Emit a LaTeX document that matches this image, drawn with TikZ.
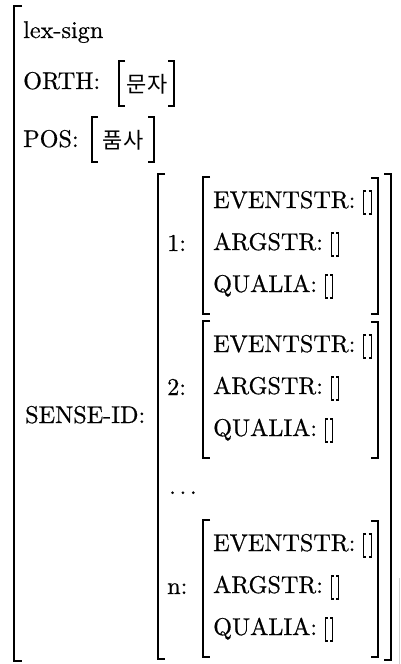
\documentclass[tikz,border=0pt]{standalone}
\usepackage{graphicx}
\usepackage{fontspec}
\newfontfamily\krfont{Noto Sans CJK KR}
\newfontfamily\lmheavy{lmroman10-regular}[Extension=.otf, FakeBold=0.6]
\newcommand\avmT[1]{\scalebox{2.42}{#1}}
\tikzset{
  brk/.style={line width=2.2pt, line join=miter},
  ebx/.style={line width=1.2pt},
  lbl/.style={anchor=base west, inner sep=0pt, font=\lmheavy\fontsize{10}{12}\selectfont},
  kr/.style={anchor=center, inner sep=0pt, font=\krfont\fontsize{22}{24}\selectfont},
}
\newcommand\avmLB[4]{\draw[brk] ({#1+#4},#2) -- (#1,#2) -- (#1,#3) -- ({#1+#4},#3);}
\newcommand\avmRB[4]{\draw[brk] ({#1-#4},#2) -- (#1,#2) -- (#1,#3) -- ({#1-#4},#3);}
\newcommand\avmEmpty[1]{%
  \draw[ebx] ([xshift=10.5pt,yshift=17pt]#1.base east) -- ([xshift=8pt,yshift=17pt]#1.base east)
     -- ([xshift=8pt,yshift=-6pt]#1.base east) -- ([xshift=10.5pt,yshift=-6pt]#1.base east);
  \draw[ebx] ([xshift=13pt,yshift=17pt]#1.base east) -- ([xshift=15.5pt,yshift=17pt]#1.base east)
     -- ([xshift=15.5pt,yshift=-6pt]#1.base east) -- ([xshift=13pt,yshift=-6pt]#1.base east);}
\newcommand\avmBlock[3]{%
  \node[lbl] (#1l) at (167,{#2+74}) {\avmT{#3}};
  \avmLB{203}{#2}{#2+137}{7}
  \avmRB{378}{#2+1}{#2+137}{7}
  \node[lbl] (#1e) at (213,{#2+31}) {\avmT{EVENTSTR:}};
  \node[lbl] (#1a) at (213,{#2+73}) {\avmT{ARGSTR:}};
  \node[lbl] (#1q) at (213,{#2+115}) {\avmT{QUALIA:}};
  \avmEmpty{#1e}\avmEmpty{#1a}\avmEmpty{#1q}}
\begin{document}
\begin{tikzpicture}[x=1pt,y=-1pt]
  \useasboundingbox (0,0) rectangle (401,664);
  % outer AVM
  \avmLB{14}{6}{661}{8}
  \node[lbl] (lex) at (23,38) {\avmT{lex-sign}};
  \node[lbl] (orth) at (23,89) {\avmT{ORTH:}};
  \avmLB{119}{61}{106}{6}
  \avmRB{174}{61}{106}{6}
  \node[kr] (orthv) at (147,84) {문자};
  \node[lbl] (pos) at (23,147) {\avmT{POS:}};
  \avmLB{92}{117}{162}{6}
  \avmRB{154}{117}{162}{6}
  \node[kr] (posv) at (123,140) {품사};
  \node[lbl] (sense) at (25,423) {\avmT{SENSE-ID:}};
  % SENSE-ID list
  \avmLB{158}{174}{659}{7}
  \avmRB{391}{174}{660}{7}
  \avmBlock{b1}{177}{1:}
  \avmBlock{b2}{321}{2:}
  \node[lbl] (dots) at (169,494) {\avmT{.\hspace{1.5pt}.\hspace{1.5pt}.}};
  \avmBlock{bn}{520}{n:}
  % faint edge of the cut-off outer bracket
  \draw[gray!35, line width=0.8pt] (399.5,578) -- (399.5,664);
\end{tikzpicture}
\end{document}
